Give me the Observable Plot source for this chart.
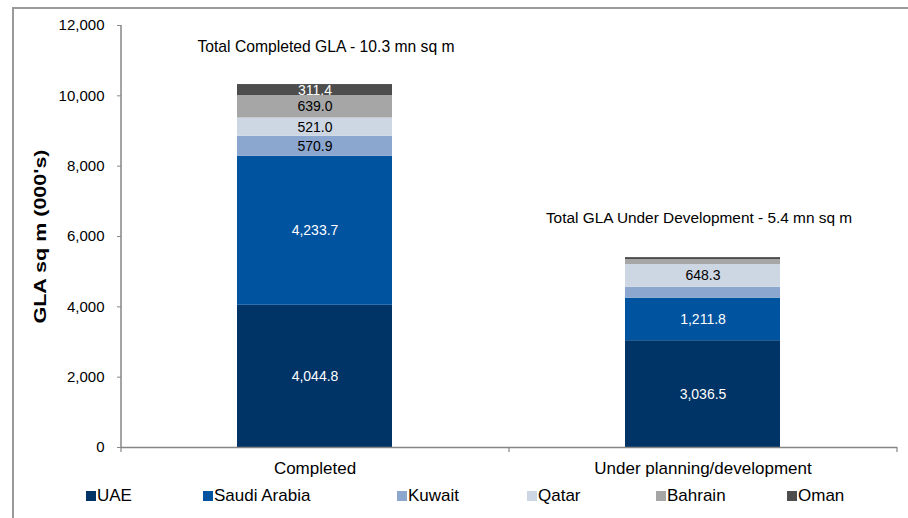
<!DOCTYPE html>
<html>
<head>
<meta charset="utf-8">
<script src="https://cdn.jsdelivr.net/npm/d3@7"></script>
<script src="https://cdn.jsdelivr.net/npm/@observablehq/plot@0.6"></script>
<style>
  body { margin: 0; background: #fff; font-family: "Liberation Sans", Arial, sans-serif; }
  #wrap { position: relative; width: 908px; height: 518px; overflow: hidden; background: #fff; }
  #frame { position: absolute; left: 12px; top: 7px; right: -5px; bottom: -5px;
           border-left: 2px solid #9a9a9a; border-top: 2px solid #9a9a9a; pointer-events: none; }
  #chart { position: absolute; left: 0; top: 0; }
  #legend { position: absolute; left: 0; top: 480px; width: 908px; height: 30px; }
  .item { position: absolute; top: 6px; display: flex; align-items: center; font-size: 17px; color: #000; white-space: nowrap; }
  .sw { width: 10px; height: 10px; margin-right: 1px; }
</style>
</head>
<body>
<div id="wrap">
  <div id="chart"></div>
  <div id="legend"></div>
  <div id="frame"></div>
</div>
<script>
// ---- data ----
const categories = ["Completed", "Under planning/development"];
const series = ["UAE", "Saudi Arabia", "Kuwait", "Qatar", "Bahrain", "Oman"];
const completedValues = [4044.8, 4233.7, 570.9, 521.0, 639.0, 311.4];
const underDevValues = [3036.5, 1211.8, 305.0, 648.3, 140.0, 58.0];
const completedLabeled = [true, true, true, true, true, true];
const underDevLabeled = [true, true, false, true, false, false];
const colors = ["#003366", "#00539f", "#8ca7cf", "#cdd6e3", "#a6a6a6", "#4d4d4d"];
const darkSeries = ["UAE", "Saudi Arabia", "Oman"];
const annotations = ["Total Completed GLA - 10.3 mn sq m", "Total GLA Under Development - 5.4 mn sq m"];
const yTicks = [0, 2000, 4000, 6000, 8000, 10000, 12000];
const yLabel = "GLA sq m (000's)";
const legendX = [86, 203, 397, 527, 656, 787];

// ---- build rows ----
const valuesByCat = [completedValues, underDevValues];
const labeledByCat = [completedLabeled, underDevLabeled];
const rows = [];
categories.forEach((c, i) => series.forEach((s, j) => rows.push({
  category: c, series: s, value: valuesByCat[i][j], labeled: labeledByCat[i][j]
})));
const totals = categories.map((c, i) => ({category: c, total: d3.sum(valuesByCat[i]), text: annotations[i]}));
const fmt = d3.format(",.1f");
const isDark = s => darkSeries.includes(s);
const font = "'Liberation Sans', Arial, sans-serif";

const plot = Plot.plot({
  width: 908, height: 480,
  marginTop: 25, marginBottom: 33, marginLeft: 121, marginRight: 11,
  style: {fontFamily: font, fontSize: "15px", color: "#000", background: "transparent", overflow: "visible"},
  x: {domain: categories, paddingInner: 0.6, paddingOuter: 0.3, label: null, axis: null},
  y: {domain: [0, 12000], label: null, axis: null},
  color: {domain: series, range: colors},
  marks: [
    Plot.barY(rows, {x: "category", y: "value", fill: "series"}),
    Plot.text(rows, Plot.stackY({
      x: "category", y: "value", z: "series",
      text: d => (d.labeled && isDark(d.series)) ? fmt(d.value) : null,
      fill: "white", fontSize: 14
    })),
    Plot.text(rows, Plot.stackY({
      x: "category", y: "value", z: "series",
      text: d => (d.labeled && !isDark(d.series)) ? fmt(d.value) : null,
      fill: "black", fontSize: 14
    })),
    Plot.text(totals.slice(0, 1), {x: "category", y: "total", text: "text", dy: -38, dx: 11, fontSize: 15.7, fill: "#000"}),
    Plot.text(totals.slice(1), {x: "category", y: "total", text: "text", dy: -40, dx: -4, fontSize: 15.4, fill: "#000"}),
    Plot.axisY({ticks: yTicks, tickFormat: d3.format(","), tickSize: 4, tickPadding: 13,
      stroke: "#868686", fill: "#000", fontSize: 15, letterSpacing: "0.8px", label: null}),
    Plot.axisX({tickSize: 0, tickPadding: 14, fontSize: 17, fill: "#000", label: null}),
    Plot.ruleY([0], {stroke: "#868686", strokeWidth: 1.5}),
    Plot.text([yLabel], {frameAnchor: "left", textAnchor: "middle", rotate: -90, dx: -81, fontWeight: "bold", fontSize: 16, fill: "#000", className: "ylabel"})
  ]
});
document.getElementById("chart").appendChild(plot);

// stretch the y-axis title like the original rendering
d3.select(plot).selectAll("g.ylabel text, .ylabel text")
  .attr("textLength", 174).attr("lengthAdjust", "spacingAndGlyphs");

// axis line for y and category boundary ticks, from scales
const xs = plot.scale("x"), ys = plot.scale("y");
const svg = d3.select(plot);
const x0 = xs.range[0];
svg.append("line")
  .attr("x1", x0).attr("x2", x0)
  .attr("y1", ys.range[0]).attr("y2", ys.range[1])
  .attr("stroke", "#868686").attr("stroke-width", 1.5);
categories.concat([null]).forEach((c, k) => {
  const bx = x0 + k * xs.step;
  svg.append("line")
    .attr("x1", bx).attr("x2", bx)
    .attr("y1", ys.range[0]).attr("y2", ys.range[0] + 5)
    .attr("stroke", "#868686").attr("stroke-width", 1.2);
});

// legend
const legend = document.getElementById("legend");
series.forEach((s, i) => {
  const item = document.createElement("div");
  item.className = "item";
  item.style.left = legendX[i] + "px";
  const sw = document.createElement("span");
  sw.className = "sw";
  sw.style.background = colors[i];
  const label = document.createElement("span");
  label.textContent = s;
  item.appendChild(sw);
  item.appendChild(label);
  legend.appendChild(item);
});
</script>
</body>
</html>
